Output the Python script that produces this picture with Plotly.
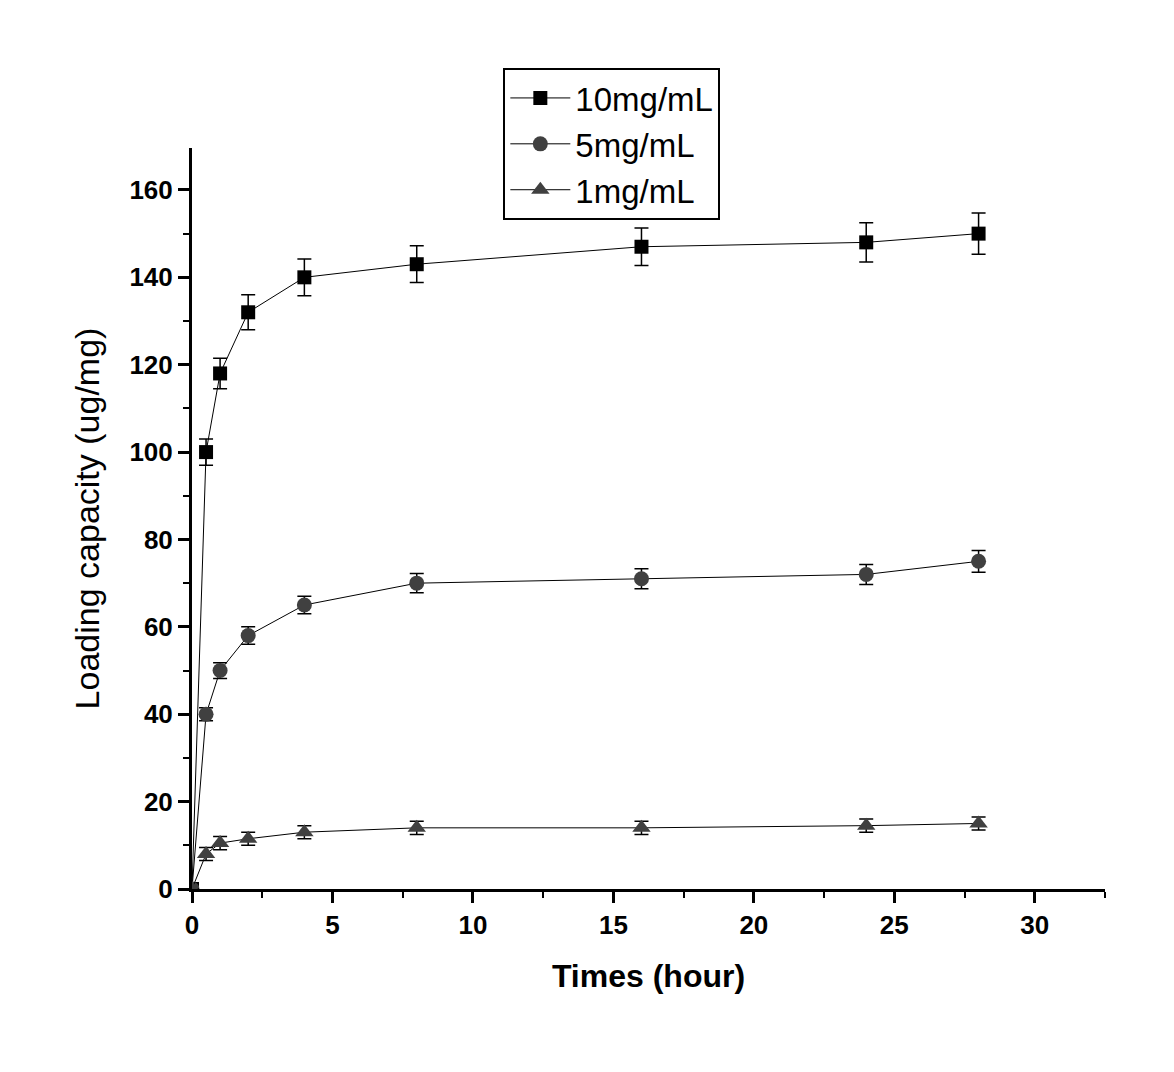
import plotly.graph_objects as go

times = [0, 0.5, 1, 2, 4, 8, 16, 24, 28]
y_10 = [0, 100, 118, 132, 140, 143, 147, 148, 150]
e_10 = [0, 3, 3.5, 4, 4.2, 4.2, 4.3, 4.5, 4.7]
y_5 = [0, 40, 50, 58, 65, 70, 71, 72, 75]
e_5 = [0, 1.5, 1.8, 2, 2, 2.2, 2.3, 2.3, 2.5]
y_1 = [0, 8, 10.5, 11.5, 13, 14, 14, 14.5, 15]
e_1 = [0, 1.5, 1.5, 1.5, 1.5, 1.5, 1.5, 1.5, 1.5]

series = [
    ("10mg/mL", y_10, e_10, "square", "#000000", 14),
    ("5mg/mL", y_5, e_5, "circle", "#404040", 15),
    ("1mg/mL", y_1, e_1, "triangle-up", "#404040", 16),
]

fig = go.Figure()
for name, ys, es, sym, col, sz in series:
    fig.add_trace(go.Scatter(
        x=times, y=ys, name=name, mode="lines+markers",
        line=dict(color="#000000", width=1),
        marker=dict(symbol=sym, size=sz, color=col),
        error_y=dict(type="data", array=es, visible=True, color="#000000",
                     thickness=1.5, width=7),
    ))

axis_common = dict(
    showline=True, linecolor="#000000", linewidth=3,
    ticks="outside", ticklen=11, tickwidth=3, tickcolor="#000000",
    showgrid=False, zeroline=False, mirror=False, automargin=False,
    tickfont=dict(family="Liberation Sans, Arial", size=26, color="#000000", weight="bold"),
)

fig.update_xaxes(
    range=[0, 32.5], tick0=0, dtick=5,
    minor=dict(dtick=2.5, ticklen=6, tickwidth=2, tickcolor="#000000", ticks="outside"),
    title=dict(text="Times (hour)", font=dict(family="Liberation Sans, Arial", size=32,
                                              color="#000000", weight="bold"), standoff=26),
    **axis_common,
)
fig.update_yaxes(
    range=[0, 169.6], tick0=0, dtick=20,
    minor=dict(dtick=10, ticklen=6, tickwidth=2, tickcolor="#000000", ticks="outside"),
    title=dict(text="Loading capacity (ug/mg)", font=dict(family="Liberation Sans, Arial", size=34,
                                                         color="#000000"), standoff=20),
    **axis_common,
)

fig.update_layout(
    width=1174, height=1072,
    margin=dict(l=184, r=77, t=140, b=191, autoexpand=False),
    paper_bgcolor="#ffffff", plot_bgcolor="#ffffff",
    showlegend=True,
    legend=dict(
        x=0.341, y=1.108, xanchor="left", yanchor="top",
        bordercolor="#000000", borderwidth=2, bgcolor="#ffffff",
        font=dict(family="Liberation Sans, Arial", size=33, color="#000000"),
        itemwidth=60, tracegroupgap=0,
    ),
)

fig.write_html("out.html")
